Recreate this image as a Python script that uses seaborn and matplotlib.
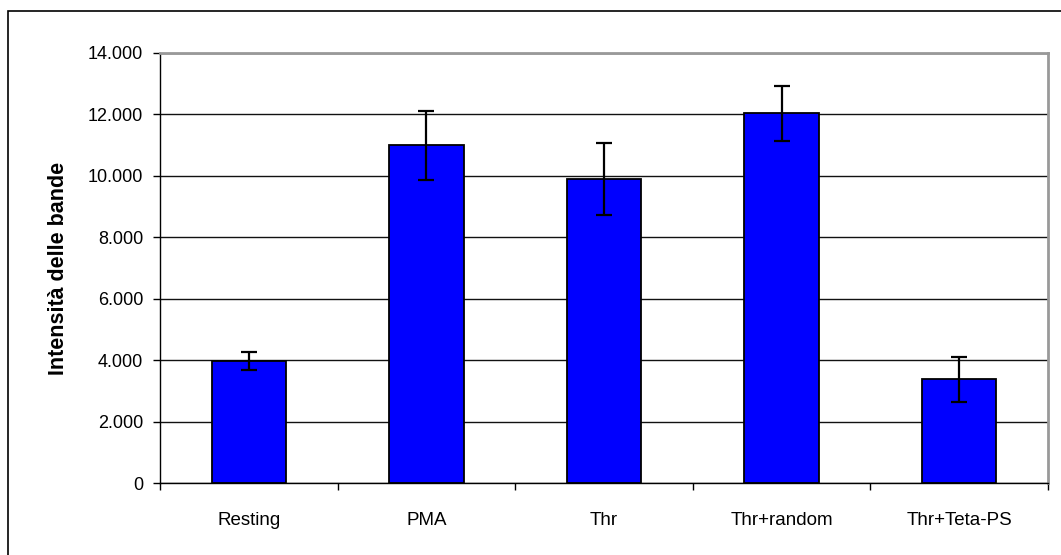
import seaborn as sns
import matplotlib.pyplot as plt
from matplotlib.patches import Rectangle
from matplotlib.ticker import FuncFormatter, FixedLocator

# values
categories = ["Resting", "PMA", "Thr", "Thr+random", "Thr+Teta-PS"]
intensity = [3975, 11000, 9900, 12040, 3370]
errors = [300, 1120, 1170, 900, 720]
y_ticks = [0, 2000, 4000, 6000, 8000, 10000, 12000, 14000]

plt.rcParams['font.family'] = ['Liberation Sans', 'DejaVu Sans']

fig = plt.figure(figsize=(10.61, 5.55), dpi=100)
ax = fig.add_axes([160 / 1061, 72 / 555, 888 / 1061, 430 / 555])

# horizontal gridlines behind the bars
ax.set_axisbelow(True)
ax.yaxis.grid(True, color='#111111', linewidth=1.0)

sns.barplot(x=categories, y=intensity, color='#0000FF', saturation=1,
            width=0.42, edgecolor='black', linewidth=1.3, errorbar=None, ax=ax)
ax.errorbar(x=list(range(len(categories))), y=intensity, yerr=errors,
            fmt='none', ecolor='black', elinewidth=1.6, capsize=5.6,
            capthick=1.6, zorder=5)

ax.set_xlim(-0.5, len(categories) - 0.5)
ax.set_ylim(0, 14000)
ax.yaxis.set_major_locator(FixedLocator(y_ticks))
ax.yaxis.set_major_formatter(FuncFormatter(lambda v, p: f"{int(v):,}".replace(",", ".")))

# category ticks sit between the bars, labels in the middle
ax.set_xticks([i - 0.5 for i in range(len(categories) + 1)], minor=True)
ax.tick_params(axis='x', which='major', length=0, pad=21, labelsize=13.5)
ax.tick_params(axis='x', which='minor', length=5, width=1, direction='out')
ax.tick_params(axis='y', length=5, width=1, direction='out', pad=7, labelsize=13)

ax.set_xlabel(None)
ax.set_ylabel("Intensità delle bande", fontsize=15.5, fontweight='bold', labelpad=14)

for side in ['left', 'bottom']:
    ax.spines[side].set_color('black')
    ax.spines[side].set_linewidth(1.0)
for side in ['top', 'right']:
    ax.spines[side].set_color('#999999')
    ax.spines[side].set_linewidth(2.0)

# chart area frame
fig.patches.append(Rectangle((8 / 1061, -0.1), 1.2, (555 - 11) / 555 + 0.1,
                             transform=fig.transFigure, fill=False,
                             edgecolor='black', linewidth=1.2))

fig.savefig('out.png', dpi=100)
